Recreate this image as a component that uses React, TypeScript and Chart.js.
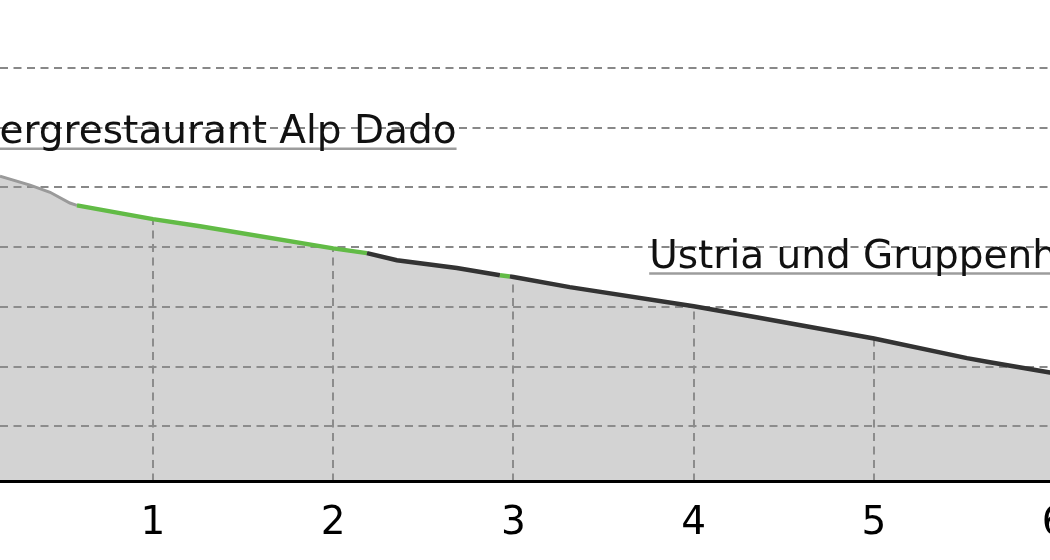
import React, { useEffect, useRef } from "react";
import { Chart, registerables } from "chart.js";

Chart.register(...registerables);

// Route profile: distance (km) and elevation (m)
const KM = [0, 0.151, 0.318, 0.429, 0.539, 0.578, 1.0, 1.261, 2.0, 2.187, 2.353, 2.686, 2.925, 2.98, 3.0, 3.312, 4.0, 4.355, 5.0, 5.516, 5.643, 5.976, 6.4];
const ELEVATION = [1632, 1619, 1604, 1592, 1574, 1570, 1547, 1535, 1498, 1490, 1478, 1465, 1453, 1451, 1450, 1433, 1401, 1382, 1347, 1314, 1307, 1290, 1271];
// surface type of the segment starting at each point
const SURFACE = [
  "unknown", "unknown", "unknown", "unknown", "unknown",
  "trail", "trail", "trail", "trail",
  "road", "road", "road",
  "trail",
  "road", "road", "road", "road", "road", "road", "road", "road", "road", "road",
];
const SURFACE_COLORS: Record<string, string> = { unknown: "#9a9a9a", trail: "#62bb46", road: "#333333" };
const SURFACE_WIDTHS: Record<string, number> = { unknown: 3, trail: 4.5, road: 4.5 };

const X_TICKS = [1, 2, 3, 4, 5, 6];
const Y_GRID = [1200, 1300, 1400, 1500, 1600, 1700, 1800];

const POI_NAMES = ["Bergrestaurant Alp Dado", "Ustria und Gruppenhaus"];
const POI_KM = [0, 3.753];
const POI_LABEL_ELEV = [1674, 1465];

const X_MIN = 0.1512;
const X_MAX = 6.365;
const Y_MIN = 1107.3;
const Y_MAX = 1914.2;

const GRID_COLOR = "#888888";
const GRID_DASH = [8, 5.5];
const FONT = '"DejaVu Sans", sans-serif';

function elevAt(km: number): number {
  for (let i = 0; i < KM.length - 1; i++) {
    if (km >= KM[i] && km <= KM[i + 1]) {
      const t = (km - KM[i]) / (KM[i + 1] - KM[i]);
      return ELEVATION[i] + t * (ELEVATION[i + 1] - ELEVATION[i]);
    }
  }
  return ELEVATION[ELEVATION.length - 1];
}

const verticalGrid = {
  id: "verticalGrid",
  beforeDatasetsDraw(chart: any) {
    const { ctx, chartArea, scales } = chart;
    const x = scales.x, y = scales.y;
    ctx.save();
    ctx.strokeStyle = GRID_COLOR;
    ctx.lineWidth = 2;
    ctx.setLineDash(GRID_DASH);
    X_TICKS.forEach((k) => {
      const px = Math.round(x.getPixelForValue(k));
      const py = y.getPixelForValue(elevAt(k));
      ctx.beginPath();
      ctx.moveTo(px, chartArea.bottom);
      ctx.lineTo(px, py);
      ctx.stroke();
    });
    ctx.restore();
  },
};

const poiLabels = {
  id: "poiLabels",
  afterDatasetsDraw(chart: any) {
    const { ctx, scales } = chart;
    ctx.save();
    ctx.font = `39px ${FONT}`;
    ctx.textBaseline = "alphabetic";
    ctx.textAlign = "left";
    POI_NAMES.forEach((name, i) => {
      const px = scales.x.getPixelForValue(POI_KM[i]);
      const py = scales.y.getPixelForValue(POI_LABEL_ELEV[i]);
      const w = ctx.measureText(name).width;
      ctx.strokeStyle = "#9c9c9c";
      ctx.lineWidth = 2.5;
      ctx.beginPath();
      ctx.moveTo(px, py + 5.5);
      ctx.lineTo(px + w, py + 5.5);
      ctx.stroke();
      ctx.fillStyle = "#111111";
      ctx.fillText(name, px, py);
    });
    ctx.restore();
  },
};

export default function App() {
  const ref = useRef<HTMLCanvasElement | null>(null);

  useEffect(() => {
    if (!ref.current) return;
    const points = KM.map((k, i) => ({ x: k, y: ELEVATION[i] }));
    const chart = new Chart(ref.current, {
      type: "line",
      data: {
        datasets: [
          {
            data: points,
            fill: false,
            borderColor: SURFACE_COLORS.road,
            borderWidth: 4.5,
            pointRadius: 0,
            tension: 0,
            order: 0,
            segment: {
              borderColor: (c: any) => SURFACE_COLORS[SURFACE[c.p0DataIndex]],
              borderWidth: (c: any) => SURFACE_WIDTHS[SURFACE[c.p0DataIndex]],
            },
          },
          {
            data: points,
            fill: "start",
            backgroundColor: "rgba(146,146,146,0.403)",
            borderWidth: 0,
            borderColor: "rgba(0,0,0,0)",
            pointRadius: 0,
            tension: 0,
            order: 1,
          },
        ],
      },
      options: {
        animation: false,
        responsive: false,
        devicePixelRatio: 1,
        layout: { padding: 0 },
        plugins: { legend: { display: false }, tooltip: { enabled: false } },
        scales: {
          x: {
            type: "linear",
            min: X_MIN,
            max: X_MAX,
            afterBuildTicks: (s: any) => {
              s.ticks = X_TICKS.map((v) => ({ value: v }));
            },
            afterFit: (s: any) => {
              s.height = 78.5;
            },
            grid: { display: true, drawOnChartArea: false, drawTicks: false },
            border: { display: true, color: "#000000", width: 3, z: 1 },
            ticks: {
              color: "#000000",
              padding: 19,
              maxRotation: 0,
              autoSkip: false,
              font: { family: FONT, size: 39 },
              callback: (v: any) => String(v),
            },
          },
          y: {
            type: "linear",
            min: Y_MIN,
            max: Y_MAX,
            afterBuildTicks: (s: any) => {
              s.ticks = Y_GRID.map((v) => ({ value: v }));
            },
            afterFit: (s: any) => {
              s.width = 0;
            },
            grid: { color: GRID_COLOR, lineWidth: 2, drawTicks: false },
            border: { display: false, dash: GRID_DASH },
            ticks: { display: false },
          },
        },
      },
      plugins: [verticalGrid, poiLabels],
    });
    return () => chart.destroy();
  }, []);

  return (
    <div
      style={{
        position: "fixed",
        left: 0,
        top: 0,
        width: 1050,
        height: 560,
        overflow: "hidden",
        background: "#ffffff",
      }}
    >
      <canvas ref={ref} width={1120} height={560} style={{ position: "absolute", left: 0, top: 0, width: 1120, height: 560 }} />
    </div>
  );
}
